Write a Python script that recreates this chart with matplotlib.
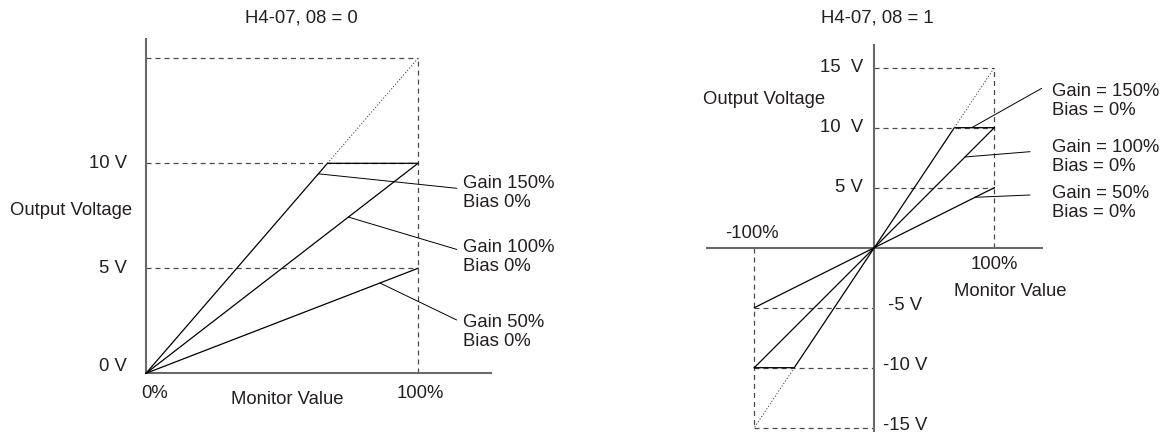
import matplotlib
matplotlib.use('Agg')
import matplotlib.pyplot as plt

# 字体与线型设置
plt.rcParams['font.family'] = ['Liberation Sans', 'DejaVu Sans']
plt.rcParams['font.size'] = 13.3
plt.rcParams['lines.scale_dashes'] = False

TXT = '#231f20'
AXC = '#6a6a6a'
DSH = '#4a4a4a'
DASH = (0, (3.6, 2.9))
DOT = (0, (0.8, 1.4))

# 数据：左图 (H4-07, 08 = 0)
left_x_150 = [0, 66.7, 100]
left_y_150 = [0, 10, 10]
left_x_100 = [0, 100]
left_y_100 = [0, 10]
left_x_50 = [0, 100]
left_y_50 = [0, 5]
left_dot_x = [66.7, 100]
left_dot_y = [10, 15]
left_levels = [5, 10, 15]
left_tick_vals = [0, 5, 10]
left_tick_labels = ['0 V', '5 V', '10 V']
left_gain_labels = ['Gain 150%\nBias 0%', 'Gain 100%\nBias 0%', 'Gain 50%\nBias 0%']

# 数据：右图 (H4-07, 08 = 1)
right_x_150 = [-100, -66.7, 66.7, 100]
right_y_150 = [-10, -10, 10, 10]
right_x_100 = [-100, 100]
right_y_100 = [-10, 10]
right_x_50 = [-100, 100]
right_y_50 = [-5, 5]
right_dot_x = [[66.7, 100], [-66.7, -100]]
right_dot_y = [[10, 15], [-10, -15]]
right_levels_pos = [5, 10, 15]
right_levels_neg = [-5, -10, -15]
right_tick_pos = [15, 10, 5]
right_tick_pos_labels = ['15  V', '10  V', '5 V']
right_tick_neg = [-5, -10, -15]
right_tick_neg_labels = ['-5 V', '-10 V', '-15 V']
right_gain_labels = ['Gain = 150%\nBias = 0%', 'Gain = 100%\nBias = 0%', 'Gain = 50%\nBias = 0%']

fig = plt.figure(figsize=(11.64, 4.32), dpi=100)

# ---------------- 左图 ----------------
ax1 = fig.add_axes([0, 0, 560 / 1164, 1])
ax1.set_xlim(-53.68, 152.2)
ax1.set_ylim(-2.795, 17.776)
ax1.axis('off')

for lv in left_levels:
    ax1.plot([0, 100], [lv, lv], color=DSH, lw=0.9, linestyle=DASH)
ax1.plot([100, 100], [0, 15], color=DSH, lw=0.9, linestyle=DASH)
ax1.plot([0, 0], [0, 15.9], color=AXC, lw=1.5)
ax1.plot([0, 127], [0, 0], color=AXC, lw=1.5)

for xs, ys in [(left_x_150, left_y_150), (left_x_100, left_y_100), (left_x_50, left_y_50)]:
    ax1.plot(xs, ys, color='black', lw=0.9)
ax1.plot(left_dot_x, left_dot_y, color='#333333', lw=0.7, linestyle=DOT)

for v, lab in zip(left_tick_vals, left_tick_labels):
    yy = 0.31 if v == 0 else v
    ax1.text(-7.0, yy, lab, ha='right', va='center', color=TXT)

ax1.text(57, 16.92, 'H4-07, 08 = 0', ha='center', va='center', color=TXT)
ax1.text(-50, 7.74, 'Output Voltage', ha='left', va='center', color=TXT)
ax1.text(3.3, -0.94, '0%', ha='center', va='center', color=TXT)
ax1.text(100.7, -0.94, '100%', ha='center', va='center', color=TXT)
ax1.text(52, -1.27, 'Monitor Value', ha='center', va='center', color=TXT)

left_ptr = [((63.3, 9.5), (114.2, 8.81)), ((74.4, 7.44), (114.2, 5.90)), ((86, 4.3), (114.2, 2.54))]
left_lab_y = [8.57, 5.54, 1.98]
for (p0, p1), lab, ly in zip(left_ptr, left_gain_labels, left_lab_y):
    ax1.annotate('', xy=p0, xytext=p1,
                 arrowprops=dict(arrowstyle='-', color='black', lw=0.7, shrinkA=0, shrinkB=0))
    ax1.text(116.5, ly, lab, ha='left', va='center', color=TXT, linespacing=1.15)

# ---------------- 右图 ----------------
ax2 = fig.add_axes([580 / 1164, 0, 584 / 1164, 1])
ax2.set_xlim(-245.25, 241.42)
ax2.set_ylim(-15.358, 20.64)
ax2.axis('off')

for lv in right_levels_pos:
    ax2.plot([0, 100], [lv, lv], color=DSH, lw=0.9, linestyle=DASH)
for lv in right_levels_neg:
    ax2.plot([-100, 0], [lv, lv], color=DSH, lw=0.9, linestyle=DASH)
ax2.plot([100, 100], [0, 15], color=DSH, lw=0.9, linestyle=DASH)
ax2.plot([-100, -100], [0, -15], color=DSH, lw=0.9, linestyle=DASH)
ax2.plot([0, 0], [-15.5, 16.9], color=AXC, lw=1.5)
ax2.plot([-139.7, 140], [0, 0], color=AXC, lw=1.5)

for xs, ys in [(right_x_150, right_y_150), (right_x_100, right_y_100), (right_x_50, right_y_50)]:
    ax2.plot(xs, ys, color='black', lw=0.9)
for xs, ys in zip(right_dot_x, right_dot_y):
    ax2.plot(xs, ys, color='#333333', lw=0.7, linestyle=DOT)

for v, lab in zip(right_tick_pos, right_tick_pos_labels):
    ax2.text(-9.2, v, lab, ha='right', va='center', color=TXT)
for v, lab, xx in zip(right_tick_neg, right_tick_neg_labels, [11.7, 7.5, 7.5]):
    ax2.text(xx, v + 0.2, lab, ha='left', va='center', color=TXT)

ax2.text(2.7, 19.14, 'H4-07, 08 = 1', ha='center', va='center', color=TXT)
ax2.text(-143, 12.31, 'Output Voltage', ha='left', va='center', color=TXT)
ax2.text(-101.9, 1.2, '-100%', ha='center', va='center', color=TXT)
ax2.text(100, -1.44, '100%', ha='center', va='center', color=TXT)
ax2.text(113.3, -3.61, 'Monitor Value', ha='center', va='center', color=TXT)

right_ptr = [((81.2, 10), (139.5, 13.28)), ((75.6, 7.56), (129.75, 8.0)), ((83.9, 4.2), (129.75, 4.39))]
right_lab_y = [12.24, 7.53, 3.73]
for (p0, p1), lab, ly in zip(right_ptr, right_gain_labels, right_lab_y):
    ax2.annotate('', xy=p0, xytext=p1,
                 arrowprops=dict(arrowstyle='-', color='black', lw=0.7, shrinkA=0, shrinkB=0))
    ax2.text(147.8, ly, lab, ha='left', va='center', color=TXT, linespacing=1.15)

fig.savefig('out.png', dpi=100)
plt.close(fig)
